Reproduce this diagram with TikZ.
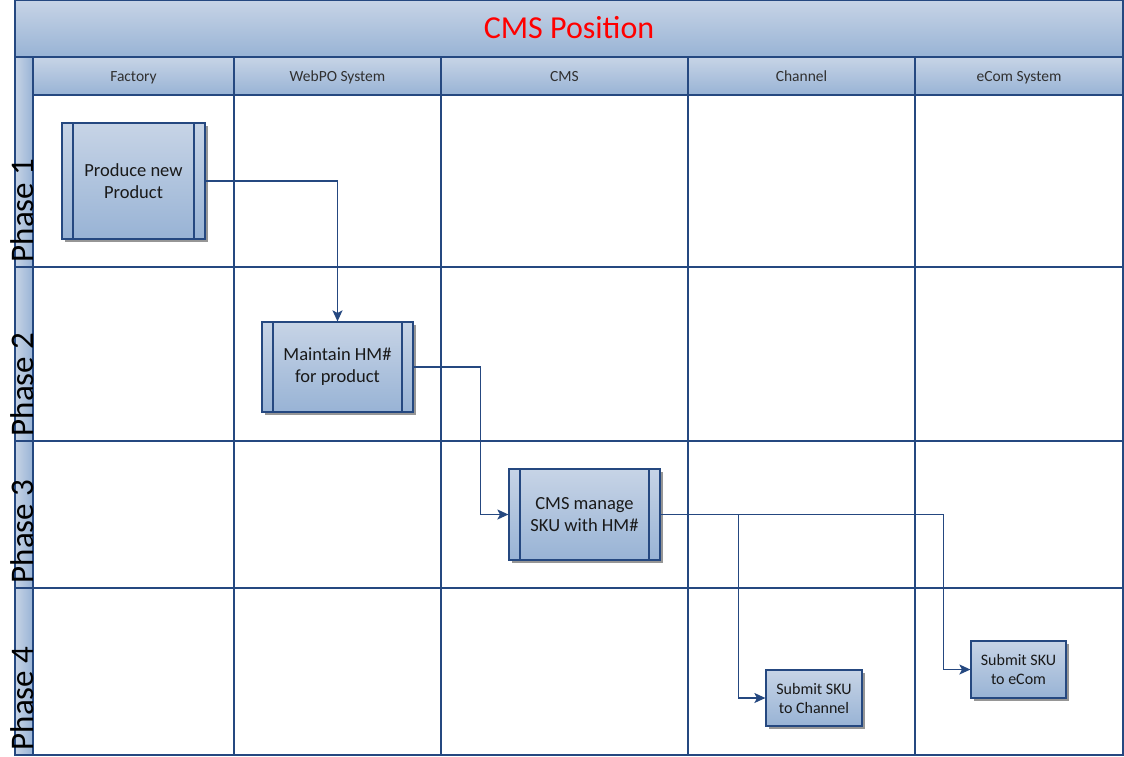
\documentclass[tikz,border=0pt]{standalone}
\usepackage{fontspec}
\setmainfont{Carlito}
\usepackage{tikz}
\usetikzlibrary{arrows.meta,shadows,calc}
\usepackage{xcolor}
\definecolor{swline}{RGB}{37,72,128}
\definecolor{swtop}{RGB}{199,212,230}
\definecolor{swbot}{RGB}{152,179,213}
\definecolor{swtext}{RGB}{25,25,25}
\definecolor{swshadow}{RGB}{150,150,150}
\tikzstyle{lane} = [draw=swline, line width=1.2pt]
\tikzstyle{band} = [draw=swline, line width=1.2pt, top color=swtop, bottom color=swbot]
\tikzstyle{proc} = [draw=swline, line width=1.2pt, top color=swtop, bottom color=swbot, inner sep=0pt, align=center, text=swtext, drop shadow={shadow xshift=3pt, shadow yshift=-3pt, fill=swshadow, opacity=1}]
\tikzstyle{subproc} = [proc, font=\fontsize{18.5}{22}\selectfont, path picture={
    \draw[swline, line width=1.2pt]
      ([xshift=11pt]path picture bounding box.north west) -- ([xshift=11pt]path picture bounding box.south west)
      ([xshift=-11pt]path picture bounding box.north east) -- ([xshift=-11pt]path picture bounding box.south east);}]
\tikzstyle{flow} = [line width=1.3pt, draw=swline, -{Stealth[length=11pt, width=10pt, inset=2.5pt]}]

\begin{document}
\begin{tikzpicture}[x=1pt, y=-1pt]
    \useasboundingbox (0,0) rectangle (1124,756);

    % Bands
    \fill[top color=swtop, bottom color=swbot] (15,0) rectangle (1123,57);
    \fill[top color=swtop, bottom color=swbot] (33,57) rectangle (1123,95);
    \fill[left color=swtop, right color=swbot] (15,57) rectangle (33,755);

    % Lanes
    \draw[lane] (15,0) rectangle (1123,755);
    \draw[lane] (15,57) -- (1123,57);
    \draw[lane] (33,95) -- (1123,95);
    \draw[lane] (33,57) -- (33,755);
    \foreach \x in {234,441,688,915}
        \draw[lane] (\x,57) -- (\x,755);
    \foreach \y in {267,441,588}
        \draw[lane] (15,\y) -- (1123,\y);

    % Title and headers
    \node[font=\fontsize{32}{38}\selectfont, text=red] (title) at (569,28) {CMS Position};
    \foreach \n/\x/\t in {factory/133.5/Factory, webpo/337.5/WebPO System, cms/564.5/CMS, channel/801.5/Channel, ecom/1019/eCom System}
        \node[anchor=base, inner sep=0pt, font=\fontsize{15.5}{18}\selectfont, text=swtext!90] (hd-\n) at (\x,81) {\t};

    % Phases
    \foreach \i/\y in {1/262.5, 2/436.5, 3/583.5, 4/750.5}
        \node[rotate=90, anchor=base west, inner sep=0pt, font=\fontsize{33}{38}\selectfont, text=black] (phase\i) at (33.5,\y) {Phase \i};

    % Steps
    \node[subproc, minimum width=143pt, minimum height=116pt] (produce) at (133.5,181) {Produce new\\Product};
    \node[subproc, minimum width=151pt, minimum height=90pt] (maintain) at (337.5,367) {Maintain HM\#\\for product};
    \node[subproc, minimum width=151pt, minimum height=91pt] (manage) at (584.5,514.5) {CMS manage\\SKU with HM\#};
    \node[proc, font=\fontsize{16}{19}\selectfont, minimum width=96pt, minimum height=56pt] (tochannel) at (814,698) {Submit SKU\\to Channel};
    \node[proc, font=\fontsize{16}{19}\selectfont, minimum width=95pt, minimum height=57pt] (toecom) at (1018.5,669.5) {Submit SKU\\to eCom};

    % Flows
    \draw[flow] (produce.east) -| (maintain.north);
    \draw[flow] (maintain.east) -- ++(67,0) |- (manage.west);
    \draw[flow] (manage.east) -- ++(283,0) |- (toecom.west);
    \coordinate (split) at ($(manage.east)+(78,0)$);
    \draw[flow] (split) |- (tochannel.west);
\end{tikzpicture}
\end{document}
